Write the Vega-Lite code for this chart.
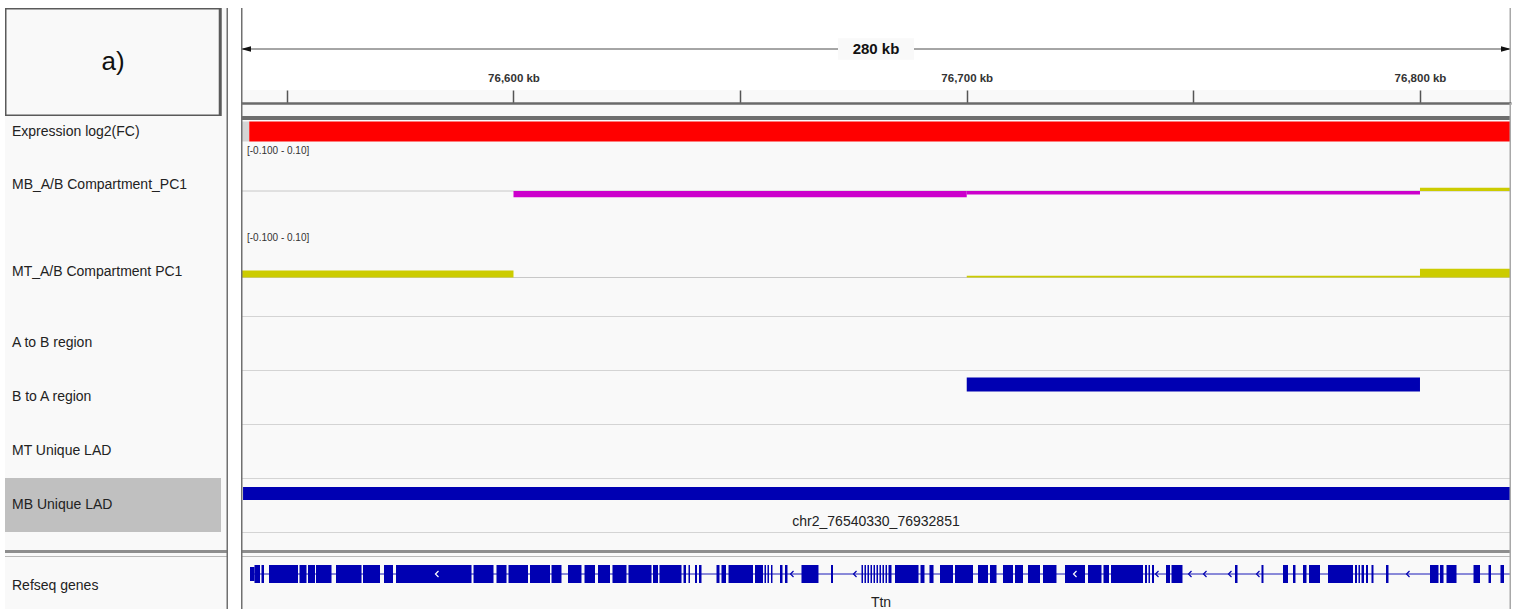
{
"$schema": "https://vega.github.io/schema/vega-lite/v6.json",
"background": "white",
"padding": {"left": 5, "top": 8, "right": 9, "bottom": 0},
"config": {"view": {"stroke": null, "fill": "#f9f9f9"}, "font": "Liberation Sans"},
"datasets": {
 "locus": [{"chrom": "chr2", "start": 76539880, "end": 76820080}],
 "tracks": [
  {"id": "expr", "track": "Expression log2(FC)"},
  {"id": "mb_pc1", "track": "MB_A/B Compartment_PC1"},
  {"id": "mt_pc1", "track": "MT_A/B Compartment PC1"},
  {"id": "a2b", "track": "A to B region"},
  {"id": "b2a", "track": "B to A region"},
  {"id": "mt_lad", "track": "MT Unique LAD"},
  {"id": "mb_lad", "track": "MB Unique LAD"},
  {"id": "refseq", "track": "Refseq genes"}
 ],
 "expression": [
  {"start": 76538000, "end": 76541700, "log2fc": 0},
  {"start": 76541700, "end": 76982500, "log2fc": 0.42}
 ],
 "mb_pc1": [
  {"start": 76500000, "end": 76600000, "pc1": 0},
  {"start": 76600000, "end": 76700000, "pc1": -0.013},
  {"start": 76700000, "end": 76800000, "pc1": -0.0073},
  {"start": 76800000, "end": 76900000, "pc1": 0.007}
 ],
 "mt_pc1": [
  {"start": 76500000, "end": 76600000, "pc1": 0.0145},
  {"start": 76600000, "end": 76700000, "pc1": 0},
  {"start": 76700000, "end": 76800000, "pc1": 0.0037},
  {"start": 76800000, "end": 76900000, "pc1": 0.0185}
 ],
 "b_to_a": [{"chrom": "chr2", "start": 76700000, "end": 76800000}],
 "mb_lad": [{"name": "chr2_76540330_76932851", "start": 76540330, "end": 76932851}],
 "ttn": [{"name": "Ttn", "strand": "-", "start": 76541870, "end": 76982500}],
 "ttn_strand": [
  {"pos": 76583120, "in_exon": true},
  {"pos": 76661450, "in_exon": false},
  {"pos": 76675350, "in_exon": false},
  {"pos": 76723890, "in_exon": true},
  {"pos": 76741980, "in_exon": false},
  {"pos": 76749260, "in_exon": false},
  {"pos": 76752570, "in_exon": false},
  {"pos": 76758080, "in_exon": false},
  {"pos": 76764260, "in_exon": false},
  {"pos": 76797360, "in_exon": false}
 ],
 "ttn_exons": [
  {"start":76541870,"end":76542860,"part":"UTR"},
  {"start":76542860,"end":76544070,"part":"CDS"},
  {"start":76544400,"end":76544950,"part":"CDS"},
  {"start":76546060,"end":76552460,"part":"CDS"},
  {"start":76552790,"end":76554330,"part":"CDS"},
  {"start":76554660,"end":76556210,"part":"CDS"},
  {"start":76556430,"end":76559850,"part":"CDS"},
  {"start":76560840,"end":76566470,"part":"CDS"},
  {"start":76566800,"end":76570550,"part":"CDS"},
  {"start":76571430,"end":76573420,"part":"CDS"},
  {"start":76574080,"end":76590740,"part":"CDS"},
  {"start":76591180,"end":76595590,"part":"CDS"},
  {"start":76596250,"end":76598460,"part":"CDS"},
  {"start":76598900,"end":76603200,"part":"CDS"},
  {"start":76603640,"end":76608050,"part":"CDS"},
  {"start":76608390,"end":76610590,"part":"CDS"},
  {"start":76612030,"end":76615000,"part":"CDS"},
  {"start":76615670,"end":76617980,"part":"CDS"},
  {"start":76618640,"end":76621290,"part":"CDS"},
  {"start":76621840,"end":76624930,"part":"CDS"},
  {"start":76625370,"end":76630450,"part":"CDS"},
  {"start":76630780,"end":76631880,"part":"CDS"},
  {"start":76632210,"end":76637070,"part":"CDS"},
  {"start":76637510,"end":76638060,"part":"CDS"},
  {"start":76638610,"end":76638940,"part":"CDS"},
  {"start":76640050,"end":76640490,"part":"CDS"},
  {"start":76640930,"end":76641480,"part":"CDS"},
  {"start":76644790,"end":76645450,"part":"CDS"},
  {"start":76645890,"end":76646890,"part":"CDS"},
  {"start":76647440,"end":76652840,"part":"CDS"},
  {"start":76653280,"end":76655050,"part":"CDS"},
  {"start":76655380,"end":76655710,"part":"CDS"},
  {"start":76656040,"end":76656370,"part":"CDS"},
  {"start":76656810,"end":76657140,"part":"CDS"},
  {"start":76658800,"end":76659350,"part":"CDS"},
  {"start":76659900,"end":76660450,"part":"CDS"},
  {"start":76663540,"end":76667290,"part":"CDS"},
  {"start":76670050,"end":76670490,"part":"CDS"},
  {"start":76676780,"end":76677110,"part":"CDS"},
  {"start":76677440,"end":76677770,"part":"CDS"},
  {"start":76678100,"end":76678440,"part":"CDS"},
  {"start":76678770,"end":76679100,"part":"CDS"},
  {"start":76679430,"end":76679760,"part":"CDS"},
  {"start":76680090,"end":76680420,"part":"CDS"},
  {"start":76680750,"end":76681080,"part":"CDS"},
  {"start":76681410,"end":76681750,"part":"CDS"},
  {"start":76682080,"end":76682410,"part":"CDS"},
  {"start":76682740,"end":76683400,"part":"CDS"},
  {"start":76684170,"end":76689360,"part":"CDS"},
  {"start":76689800,"end":76690680,"part":"CDS"},
  {"start":76691780,"end":76692670,"part":"CDS"},
  {"start":76694100,"end":76696970,"part":"CDS"},
  {"start":76697410,"end":76701380,"part":"CDS"},
  {"start":76702480,"end":76704690,"part":"CDS"},
  {"start":76705130,"end":76706570,"part":"CDS"},
  {"start":76708000,"end":76710210,"part":"CDS"},
  {"start":76710650,"end":76712410,"part":"CDS"},
  {"start":76713520,"end":76716160,"part":"CDS"},
  {"start":76716830,"end":76719800,"part":"CDS"},
  {"start":76721680,"end":76726090,"part":"CDS"},
  {"start":76726750,"end":76729730,"part":"CDS"},
  {"start":76730170,"end":76731390,"part":"CDS"},
  {"start":76731830,"end":76738890,"part":"CDS"},
  {"start":76739330,"end":76739770,"part":"CDS"},
  {"start":76740100,"end":76740430,"part":"CDS"},
  {"start":76740870,"end":76741320,"part":"CDS"},
  {"start":76743960,"end":76744850,"part":"CDS"},
  {"start":76745180,"end":76747600,"part":"CDS"},
  {"start":76759190,"end":76759740,"part":"CDS"},
  {"start":76765030,"end":76765470,"part":"CDS"},
  {"start":76769780,"end":76770880,"part":"CDS"},
  {"start":76771980,"end":76772530,"part":"CDS"},
  {"start":76774190,"end":76774960,"part":"CDS"},
  {"start":76775510,"end":76777940,"part":"CDS"},
  {"start":76779700,"end":76785220,"part":"CDS"},
  {"start":76785660,"end":76786100,"part":"CDS"},
  {"start":76786430,"end":76786760,"part":"CDS"},
  {"start":76787100,"end":76787650,"part":"CDS"},
  {"start":76788090,"end":76788530,"part":"CDS"},
  {"start":76789300,"end":76789740,"part":"CDS"},
  {"start":76792500,"end":76793050,"part":"CDS"},
  {"start":76802210,"end":76804080,"part":"CDS"},
  {"start":76804420,"end":76805190,"part":"CDS"},
  {"start":76805850,"end":76808060,"part":"CDS"},
  {"start":76811810,"end":76813240,"part":"CDS"},
  {"start":76815120,"end":76815670,"part":"CDS"},
  {"start":76817760,"end":76818540,"part":"CDS"}
 ]
},
"spacing": 0,
"vconcat": [
 {"hconcat": [
  {"width": 223, "height": 108, "data": {"values": [{"panel": "a)"}]}, "layer": [
   {"mark": {"type": "rect", "fill": "#f9f9f9", "stroke": "#5a5a5a", "strokeWidth": 3, "clip": true}, "encoding": {"x": {"datum": 0, "type": "quantitative", "scale": {"domain": [0, 1], "nice": false, "zero": false}, "axis": null}, "x2": {"datum": 0.9652}}},
   {"mark": {"type": "text", "fontSize": 26, "color": "#111111", "align": "center", "baseline": "alphabetic", "dy": 8}, "encoding": {"x": {"datum": 0.4843, "type": "quantitative", "scale": {"domain": [0, 1], "nice": false, "zero": false}, "axis": null}, "text": {"field": "panel"}}},
   {"mark": {"type": "rule", "color": "#707070", "strokeWidth": 3, "clip": true}, "encoding": {"x": {"datum": 1, "type": "quantitative", "scale": {"domain": [0, 1], "nice": false, "zero": false}, "axis": null}}}
  ]},
  {"vconcat": [
   {"width": 1270, "height": 82, "data": {"name": "locus"}, "layer": [
    {"mark": {"type": "rule", "color": "#4d4d4d", "strokeWidth": 1, "clip": true}, "encoding": {"x": {"field": "start", "type": "quantitative", "scale": {"domain": [76539880, 76820080], "nice": false, "zero": false, "clamp": true}, "axis": null}, "x2": {"field": "end"}}},
    {"mark": {"type": "point", "shape": "M-1,-0.28H1V0.28H-1Z", "size": 5776, "filled": true, "color": "#f9f9f9", "opacity": 1}, "encoding": {}},
    {"mark": {"type": "text", "text": "280 kb", "fontSize": 15, "fontWeight": "bold", "color": "#111111", "align": "center", "baseline": "middle"}, "encoding": {}},
    {"mark": {"type": "point", "shape": "M0,0L2,-0.55L2,0.55Z", "size": 100, "filled": true, "color": "#111111", "opacity": 1}, "encoding": {"x": {"field": "start", "type": "quantitative", "scale": {"domain": [76539880, 76820080], "nice": false, "zero": false, "clamp": true}, "axis": null}}},
    {"mark": {"type": "point", "shape": "M0,0L-2,-0.55L-2,0.55Z", "size": 100, "filled": true, "color": "#111111", "opacity": 1}, "encoding": {"x": {"field": "end", "type": "quantitative", "scale": {"domain": [76539880, 76820080], "nice": false, "zero": false, "clamp": true}, "axis": null}}},
    {"mark": {"type": "rule", "color": "#707070", "strokeWidth": 3, "clip": true}, "encoding": {"x": {"field": "start", "type": "quantitative", "scale": {"domain": [76539880, 76820080], "nice": false, "zero": false, "clamp": true}, "axis": null}}},
    {"mark": {"type": "rule", "color": "#a8a8a8", "strokeWidth": 3, "clip": true}, "encoding": {"x": {"field": "end", "type": "quantitative", "scale": {"domain": [76539880, 76820080], "nice": false, "zero": false, "clamp": true}, "axis": null}}}
   ]},
   {"width": 1270, "height": 13, "data": {"name": "locus"}, "layer": [
    {"mark": {"type": "rule", "color": "#707070", "strokeWidth": 3, "clip": true}, "encoding": {"x": {"field": "start", "type": "quantitative", "scale": {"domain": [76539880, 76820080], "nice": false, "zero": false, "clamp": true}, "axis": null}}},
    {"mark": {"type": "rule", "color": "#a8a8a8", "strokeWidth": 3, "clip": true}, "encoding": {"x": {"field": "end", "type": "quantitative", "scale": {"domain": [76539880, 76820080], "nice": false, "zero": false, "clamp": true}, "axis": null}}}
   ]},
   {"width": 1270, "height": 13, "data": {"name": "locus"}, "layer": [
    {"mark": {"type": "rule", "color": "#707070", "strokeWidth": 3, "clip": true}, "encoding": {"x": {"field": "start", "type": "quantitative", "scale": {"domain": [76539880, 76820080], "nice": false, "zero": false, "clamp": true}, "axis": {"orient": "top", "values": [76550000, 76600000, 76650000, 76700000, 76750000, 76800000], "domain": true, "domainColor": "#6a6a6a", "domainWidth": 2.5, "ticks": true, "tickSize": 13, "tickColor": "#555555", "tickWidth": 1.5, "labelExpr": "datum.value % 100000 === 0 ? format(datum.value / 1000, ',') + ' kb' : ''", "labelFont": "Liberation Sans", "labelFontWeight": "bold", "labelFontSize": 11.5, "labelColor": "#333333", "labelPadding": 12, "labelBaseline": "middle", "labelFlush": false, "labelOverlap": false, "grid": false, "title": null}}}},
    {"mark": {"type": "rule", "color": "#a8a8a8", "strokeWidth": 3, "clip": true}, "encoding": {"x": {"field": "end", "type": "quantitative", "scale": {"domain": [76539880, 76820080], "nice": false, "zero": false, "clamp": true}, "axis": {"orient": "top", "values": [76550000, 76600000, 76650000, 76700000, 76750000, 76800000], "domain": true, "domainColor": "#6a6a6a", "domainWidth": 2.5, "ticks": true, "tickSize": 13, "tickColor": "#555555", "tickWidth": 1.5, "labelExpr": "datum.value % 100000 === 0 ? format(datum.value / 1000, ',') + ' kb' : ''", "labelFont": "Liberation Sans", "labelFontWeight": "bold", "labelFontSize": 11.5, "labelColor": "#333333", "labelPadding": 12, "labelBaseline": "middle", "labelFlush": false, "labelOverlap": false, "grid": false, "title": null}}}}
   ]}
  ], "spacing": 0, "bounds": "flush"}
 ], "spacing": 13, "bounds": "flush"},

 {"hconcat": [
  {"width": 223, "height": 4, "data": {"name": "locus"}, "layer": [
   {"mark": {"type": "rule", "color": "#707070", "strokeWidth": 3, "clip": true}, "encoding": {"x": {"datum": 1, "type": "quantitative", "scale": {"domain": [0, 1], "nice": false, "zero": false}, "axis": null}}}
  ]},
  {"width": 1270, "height": 4, "data": {"name": "locus"}, "layer": [
   {"mark": {"type": "rect", "color": "#6e6e6e"}, "encoding": {"x": {"field": "start", "type": "quantitative", "scale": {"domain": [76539880, 76820080], "nice": false, "zero": false, "clamp": true}, "axis": null}, "x2": {"field": "end"}}},
   {"mark": {"type": "rule", "color": "#707070", "strokeWidth": 3, "clip": true}, "encoding": {"x": {"field": "start", "type": "quantitative", "scale": {"domain": [76539880, 76820080], "nice": false, "zero": false, "clamp": true}, "axis": null}}},
   {"mark": {"type": "rule", "color": "#a8a8a8", "strokeWidth": 3, "clip": true}, "encoding": {"x": {"field": "end", "type": "quantitative", "scale": {"domain": [76539880, 76820080], "nice": false, "zero": false, "clamp": true}, "axis": null}}}
  ]}
 ], "spacing": 13, "bounds": "flush"},

 {"hconcat": [
  {"width": 223, "height": 23, "data": {"name": "tracks"}, "transform": [{"filter": "datum.id === 'expr'"}], "layer": [
   {"mark": {"type": "text", "align": "left", "baseline": "middle", "dx": 7, "fontSize": 14, "color": "#222222"}, "encoding": {"x": {"datum": 0, "type": "quantitative", "scale": {"domain": [0, 1], "nice": false, "zero": false}, "axis": null}, "text": {"field": "track"}}},
   {"mark": {"type": "rule", "color": "#707070", "strokeWidth": 3, "clip": true}, "encoding": {"x": {"datum": 1, "type": "quantitative", "scale": {"domain": [0, 1], "nice": false, "zero": false}, "axis": null}}}
  ]},
  {"width": 1270, "height": 23, "layer": [
   {"data": {"name": "expression"}, "mark": {"type": "rule", "strokeWidth": 20, "clip": true}, "encoding": {"x": {"field": "start", "type": "quantitative", "scale": {"domain": [76539880, 76820080], "nice": false, "zero": false, "clamp": true}, "axis": null}, "x2": {"field": "end"}, "color": {"field": "log2fc", "type": "quantitative", "scale": {"domain": [-0.1, 0, 0.1], "range": ["#0000ff", "#d4d4d4", "#ff0000"], "clamp": true}, "legend": null}}},
   {"data": {"name": "locus"}, "mark": {"type": "rule", "color": "#707070", "strokeWidth": 3, "clip": true}, "encoding": {"x": {"field": "start", "type": "quantitative", "scale": {"domain": [76539880, 76820080], "nice": false, "zero": false, "clamp": true}, "axis": null}}},
   {"data": {"name": "locus"}, "mark": {"type": "rule", "color": "#a8a8a8", "strokeWidth": 3, "clip": true}, "encoding": {"x": {"field": "end", "type": "quantitative", "scale": {"domain": [76539880, 76820080], "nice": false, "zero": false, "clamp": true}, "axis": null}}}
  ]}
 ], "spacing": 13, "bounds": "flush"},

 {"hconcat": [
  {"width": 223, "height": 87, "data": {"name": "tracks"}, "transform": [{"filter": "datum.id === 'mb_pc1'"}], "layer": [
   {"mark": {"type": "text", "align": "left", "baseline": "middle", "dx": 7, "dy": -2, "fontSize": 14, "color": "#222222"}, "encoding": {"x": {"datum": 0, "type": "quantitative", "scale": {"domain": [0, 1], "nice": false, "zero": false}, "axis": null}, "text": {"field": "track"}}},
   {"mark": {"type": "rule", "color": "#707070", "strokeWidth": 3, "clip": true}, "encoding": {"x": {"datum": 1, "type": "quantitative", "scale": {"domain": [0, 1], "nice": false, "zero": false}, "axis": null}}}
  ]},
  {"width": 1270, "height": 87, "layer": [
   {"data": {"name": "locus"}, "mark": {"type": "rule", "color": "#c8c8c8", "strokeWidth": 1, "clip": true}, "encoding": {"x": {"field": "start", "type": "quantitative", "scale": {"domain": [76539880, 76820080], "nice": false, "zero": false, "clamp": true}, "axis": null}, "x2": {"field": "end"}, "y": {"datum": 0, "type": "quantitative", "scale": {"domain": [-0.1, 0.1], "range": [96, 0], "nice": false, "zero": false, "clamp": true}, "axis": null}}},
   {"data": {"name": "mb_pc1"}, "mark": {"type": "rect"}, "encoding": {"x": {"field": "start", "type": "quantitative", "scale": {"domain": [76539880, 76820080], "nice": false, "zero": false, "clamp": true}, "axis": null}, "x2": {"field": "end"}, "y": {"field": "pc1", "type": "quantitative", "scale": {"domain": [-0.1, 0.1], "range": [96, 0], "nice": false, "zero": false, "clamp": true}, "axis": null}, "y2": {"datum": 0}, "color": {"condition": {"test": "datum.pc1 < 0", "value": "#cc00cc"}, "value": "#cccc00"}}},
   {"data": {"name": "locus"}, "mark": {"type": "text", "text": "[-0.100 - 0.10]", "align": "left", "baseline": "top", "dx": 6, "dy": 3, "fontSize": 10, "color": "#333333"}, "encoding": {"x": {"field": "start", "type": "quantitative", "scale": {"domain": [76539880, 76820080], "nice": false, "zero": false, "clamp": true}, "axis": null}, "y": {"datum": 0.1, "type": "quantitative", "scale": {"domain": [-0.1, 0.1], "range": [96, 0], "nice": false, "zero": false, "clamp": true}, "axis": null}}},
   {"data": {"name": "locus"}, "mark": {"type": "rule", "color": "#707070", "strokeWidth": 3, "clip": true}, "encoding": {"x": {"field": "start", "type": "quantitative", "scale": {"domain": [76539880, 76820080], "nice": false, "zero": false, "clamp": true}, "axis": null}}},
   {"data": {"name": "locus"}, "mark": {"type": "rule", "color": "#a8a8a8", "strokeWidth": 3, "clip": true}, "encoding": {"x": {"field": "end", "type": "quantitative", "scale": {"domain": [76539880, 76820080], "nice": false, "zero": false, "clamp": true}, "axis": null}}}
  ]}
 ], "spacing": 13, "bounds": "flush"},

 {"hconcat": [
  {"width": 223, "height": 86, "data": {"name": "tracks"}, "transform": [{"filter": "datum.id === 'mt_pc1'"}], "layer": [
   {"mark": {"type": "text", "align": "left", "baseline": "middle", "dx": 7, "dy": -1, "fontSize": 14, "color": "#222222"}, "encoding": {"x": {"datum": 0, "type": "quantitative", "scale": {"domain": [0, 1], "nice": false, "zero": false}, "axis": null}, "text": {"field": "track"}}},
   {"mark": {"type": "rule", "color": "#707070", "strokeWidth": 3, "clip": true}, "encoding": {"x": {"datum": 1, "type": "quantitative", "scale": {"domain": [0, 1], "nice": false, "zero": false}, "axis": null}}}
  ]},
  {"width": 1270, "height": 86, "layer": [
   {"data": {"name": "locus"}, "mark": {"type": "rule", "color": "#c8c8c8", "strokeWidth": 1, "clip": true}, "encoding": {"x": {"field": "start", "type": "quantitative", "scale": {"domain": [76539880, 76820080], "nice": false, "zero": false, "clamp": true}, "axis": null}, "x2": {"field": "end"}, "y": {"datum": 0, "type": "quantitative", "scale": {"domain": [-0.1, 0.1], "range": [95, 0], "nice": false, "zero": false, "clamp": true}, "axis": null}}},
   {"data": {"name": "mt_pc1"}, "mark": {"type": "rect"}, "encoding": {"x": {"field": "start", "type": "quantitative", "scale": {"domain": [76539880, 76820080], "nice": false, "zero": false, "clamp": true}, "axis": null}, "x2": {"field": "end"}, "y": {"field": "pc1", "type": "quantitative", "scale": {"domain": [-0.1, 0.1], "range": [95, 0], "nice": false, "zero": false, "clamp": true}, "axis": null}, "y2": {"datum": 0}, "color": {"condition": {"test": "datum.pc1 < 0", "value": "#cc00cc"}, "value": "#cccc00"}}},
   {"data": {"name": "locus"}, "mark": {"type": "text", "text": "[-0.100 - 0.10]", "align": "left", "baseline": "top", "dx": 6, "dy": 3, "fontSize": 10, "color": "#333333"}, "encoding": {"x": {"field": "start", "type": "quantitative", "scale": {"domain": [76539880, 76820080], "nice": false, "zero": false, "clamp": true}, "axis": null}, "y": {"datum": 0.1, "type": "quantitative", "scale": {"domain": [-0.1, 0.1], "range": [95, 0], "nice": false, "zero": false, "clamp": true}, "axis": null}}},
   {"data": {"name": "locus"}, "mark": {"type": "rule", "color": "#707070", "strokeWidth": 3, "clip": true}, "encoding": {"x": {"field": "start", "type": "quantitative", "scale": {"domain": [76539880, 76820080], "nice": false, "zero": false, "clamp": true}, "axis": null}}},
   {"data": {"name": "locus"}, "mark": {"type": "rule", "color": "#a8a8a8", "strokeWidth": 3, "clip": true}, "encoding": {"x": {"field": "end", "type": "quantitative", "scale": {"domain": [76539880, 76820080], "nice": false, "zero": false, "clamp": true}, "axis": null}}}
  ]}
 ], "spacing": 13, "bounds": "flush"},

 {"hconcat": [
  {"width": 223, "height": 54, "data": {"name": "tracks"}, "transform": [{"filter": "datum.id === 'a2b'"}], "layer": [
   {"mark": {"type": "text", "align": "left", "baseline": "middle", "dx": 7, "fontSize": 14, "color": "#222222"}, "encoding": {"x": {"datum": 0, "type": "quantitative", "scale": {"domain": [0, 1], "nice": false, "zero": false}, "axis": null}, "text": {"field": "track"}}},
   {"mark": {"type": "rule", "color": "#707070", "strokeWidth": 3, "clip": true}, "encoding": {"x": {"datum": 1, "type": "quantitative", "scale": {"domain": [0, 1], "nice": false, "zero": false}, "axis": null}}}
  ]},
  {"vconcat": [
   {"width": 1270, "height": 1, "data": {"name": "locus"}, "layer": [
    {"mark": {"type": "rect", "color": "#d4d4d4"}, "encoding": {"x": {"field": "start", "type": "quantitative", "scale": {"domain": [76539880, 76820080], "nice": false, "zero": false, "clamp": true}, "axis": null}, "x2": {"field": "end"}}},
    {"mark": {"type": "rule", "color": "#707070", "strokeWidth": 3, "clip": true}, "encoding": {"x": {"field": "start", "type": "quantitative", "scale": {"domain": [76539880, 76820080], "nice": false, "zero": false, "clamp": true}, "axis": null}}},
    {"mark": {"type": "rule", "color": "#a8a8a8", "strokeWidth": 3, "clip": true}, "encoding": {"x": {"field": "end", "type": "quantitative", "scale": {"domain": [76539880, 76820080], "nice": false, "zero": false, "clamp": true}, "axis": null}}}
   ]},
   {"width": 1270, "height": 53, "data": {"name": "locus"}, "layer": [
    {"mark": {"type": "rule", "color": "#707070", "strokeWidth": 3, "clip": true}, "encoding": {"x": {"field": "start", "type": "quantitative", "scale": {"domain": [76539880, 76820080], "nice": false, "zero": false, "clamp": true}, "axis": null}}},
    {"mark": {"type": "rule", "color": "#a8a8a8", "strokeWidth": 3, "clip": true}, "encoding": {"x": {"field": "end", "type": "quantitative", "scale": {"domain": [76539880, 76820080], "nice": false, "zero": false, "clamp": true}, "axis": null}}}
   ]}
  ], "spacing": 0, "bounds": "flush"}
 ], "spacing": 13, "bounds": "flush"},

 {"hconcat": [
  {"width": 223, "height": 54, "data": {"name": "tracks"}, "transform": [{"filter": "datum.id === 'b2a'"}], "layer": [
   {"mark": {"type": "text", "align": "left", "baseline": "middle", "dx": 7, "fontSize": 14, "color": "#222222"}, "encoding": {"x": {"datum": 0, "type": "quantitative", "scale": {"domain": [0, 1], "nice": false, "zero": false}, "axis": null}, "text": {"field": "track"}}},
   {"mark": {"type": "rule", "color": "#707070", "strokeWidth": 3, "clip": true}, "encoding": {"x": {"datum": 1, "type": "quantitative", "scale": {"domain": [0, 1], "nice": false, "zero": false}, "axis": null}}}
  ]},
  {"vconcat": [
   {"width": 1270, "height": 1, "data": {"name": "locus"}, "layer": [
    {"mark": {"type": "rect", "color": "#d4d4d4"}, "encoding": {"x": {"field": "start", "type": "quantitative", "scale": {"domain": [76539880, 76820080], "nice": false, "zero": false, "clamp": true}, "axis": null}, "x2": {"field": "end"}}},
    {"mark": {"type": "rule", "color": "#707070", "strokeWidth": 3, "clip": true}, "encoding": {"x": {"field": "start", "type": "quantitative", "scale": {"domain": [76539880, 76820080], "nice": false, "zero": false, "clamp": true}, "axis": null}}},
    {"mark": {"type": "rule", "color": "#a8a8a8", "strokeWidth": 3, "clip": true}, "encoding": {"x": {"field": "end", "type": "quantitative", "scale": {"domain": [76539880, 76820080], "nice": false, "zero": false, "clamp": true}, "axis": null}}}
   ]},
   {"width": 1270, "height": 27, "layer": [
    {"data": {"name": "b_to_a"}, "mark": {"type": "rule", "color": "#0000b2", "strokeWidth": 14, "clip": true}, "encoding": {"x": {"field": "start", "type": "quantitative", "scale": {"domain": [76539880, 76820080], "nice": false, "zero": false, "clamp": true}, "axis": null}, "x2": {"field": "end"}}},
    {"data": {"name": "locus"}, "mark": {"type": "rule", "color": "#707070", "strokeWidth": 3, "clip": true}, "encoding": {"x": {"field": "start", "type": "quantitative", "scale": {"domain": [76539880, 76820080], "nice": false, "zero": false, "clamp": true}, "axis": null}}},
    {"data": {"name": "locus"}, "mark": {"type": "rule", "color": "#a8a8a8", "strokeWidth": 3, "clip": true}, "encoding": {"x": {"field": "end", "type": "quantitative", "scale": {"domain": [76539880, 76820080], "nice": false, "zero": false, "clamp": true}, "axis": null}}}
   ]},
   {"width": 1270, "height": 26, "data": {"name": "locus"}, "layer": [
    {"mark": {"type": "rule", "color": "#707070", "strokeWidth": 3, "clip": true}, "encoding": {"x": {"field": "start", "type": "quantitative", "scale": {"domain": [76539880, 76820080], "nice": false, "zero": false, "clamp": true}, "axis": null}}},
    {"mark": {"type": "rule", "color": "#a8a8a8", "strokeWidth": 3, "clip": true}, "encoding": {"x": {"field": "end", "type": "quantitative", "scale": {"domain": [76539880, 76820080], "nice": false, "zero": false, "clamp": true}, "axis": null}}}
   ]}
  ], "spacing": 0, "bounds": "flush"}
 ], "spacing": 13, "bounds": "flush"},

 {"hconcat": [
  {"width": 223, "height": 54, "data": {"name": "tracks"}, "transform": [{"filter": "datum.id === 'mt_lad'"}], "layer": [
   {"mark": {"type": "text", "align": "left", "baseline": "middle", "dx": 7, "fontSize": 14, "color": "#222222"}, "encoding": {"x": {"datum": 0, "type": "quantitative", "scale": {"domain": [0, 1], "nice": false, "zero": false}, "axis": null}, "text": {"field": "track"}}},
   {"mark": {"type": "rule", "color": "#707070", "strokeWidth": 3, "clip": true}, "encoding": {"x": {"datum": 1, "type": "quantitative", "scale": {"domain": [0, 1], "nice": false, "zero": false}, "axis": null}}}
  ]},
  {"vconcat": [
   {"width": 1270, "height": 1, "data": {"name": "locus"}, "layer": [
    {"mark": {"type": "rect", "color": "#d4d4d4"}, "encoding": {"x": {"field": "start", "type": "quantitative", "scale": {"domain": [76539880, 76820080], "nice": false, "zero": false, "clamp": true}, "axis": null}, "x2": {"field": "end"}}},
    {"mark": {"type": "rule", "color": "#707070", "strokeWidth": 3, "clip": true}, "encoding": {"x": {"field": "start", "type": "quantitative", "scale": {"domain": [76539880, 76820080], "nice": false, "zero": false, "clamp": true}, "axis": null}}},
    {"mark": {"type": "rule", "color": "#a8a8a8", "strokeWidth": 3, "clip": true}, "encoding": {"x": {"field": "end", "type": "quantitative", "scale": {"domain": [76539880, 76820080], "nice": false, "zero": false, "clamp": true}, "axis": null}}}
   ]},
   {"width": 1270, "height": 53, "data": {"name": "locus"}, "layer": [
    {"mark": {"type": "rule", "color": "#707070", "strokeWidth": 3, "clip": true}, "encoding": {"x": {"field": "start", "type": "quantitative", "scale": {"domain": [76539880, 76820080], "nice": false, "zero": false, "clamp": true}, "axis": null}}},
    {"mark": {"type": "rule", "color": "#a8a8a8", "strokeWidth": 3, "clip": true}, "encoding": {"x": {"field": "end", "type": "quantitative", "scale": {"domain": [76539880, 76820080], "nice": false, "zero": false, "clamp": true}, "axis": null}}}
   ]}
  ], "spacing": 0, "bounds": "flush"}
 ], "spacing": 13, "bounds": "flush"},

 {"hconcat": [
  {"width": 223, "height": 54, "data": {"name": "tracks"}, "transform": [{"filter": "datum.id === 'mb_lad'"}], "layer": [
   {"mark": {"type": "rect", "color": "#c0c0c0"}, "encoding": {"x": {"datum": 0, "type": "quantitative", "scale": {"domain": [0, 1], "nice": false, "zero": false}, "axis": null}, "x2": {"datum": 0.9686}}},
   {"mark": {"type": "text", "align": "left", "baseline": "middle", "dx": 7, "fontSize": 14, "color": "#222222"}, "encoding": {"x": {"datum": 0, "type": "quantitative", "scale": {"domain": [0, 1], "nice": false, "zero": false}, "axis": null}, "text": {"field": "track"}}},
   {"mark": {"type": "rule", "color": "#707070", "strokeWidth": 3, "clip": true}, "encoding": {"x": {"datum": 1, "type": "quantitative", "scale": {"domain": [0, 1], "nice": false, "zero": false}, "axis": null}}}
  ]},
  {"vconcat": [
   {"width": 1270, "height": 1, "data": {"name": "locus"}, "layer": [
    {"mark": {"type": "rect", "color": "#d4d4d4"}, "encoding": {"x": {"field": "start", "type": "quantitative", "scale": {"domain": [76539880, 76820080], "nice": false, "zero": false, "clamp": true}, "axis": null}, "x2": {"field": "end"}}},
    {"mark": {"type": "rule", "color": "#707070", "strokeWidth": 3, "clip": true}, "encoding": {"x": {"field": "start", "type": "quantitative", "scale": {"domain": [76539880, 76820080], "nice": false, "zero": false, "clamp": true}, "axis": null}}},
    {"mark": {"type": "rule", "color": "#a8a8a8", "strokeWidth": 3, "clip": true}, "encoding": {"x": {"field": "end", "type": "quantitative", "scale": {"domain": [76539880, 76820080], "nice": false, "zero": false, "clamp": true}, "axis": null}}}
   ]},
   {"width": 1270, "height": 29, "layer": [
    {"data": {"name": "mb_lad"}, "mark": {"type": "rule", "color": "#0000b2", "strokeWidth": 13, "clip": true}, "encoding": {"x": {"field": "start", "type": "quantitative", "scale": {"domain": [76539880, 76820080], "nice": false, "zero": false, "clamp": true}, "axis": null}, "x2": {"field": "end"}}},
    {"data": {"name": "locus"}, "mark": {"type": "rule", "color": "#707070", "strokeWidth": 3, "clip": true}, "encoding": {"x": {"field": "start", "type": "quantitative", "scale": {"domain": [76539880, 76820080], "nice": false, "zero": false, "clamp": true}, "axis": null}}},
    {"data": {"name": "locus"}, "mark": {"type": "rule", "color": "#a8a8a8", "strokeWidth": 3, "clip": true}, "encoding": {"x": {"field": "end", "type": "quantitative", "scale": {"domain": [76539880, 76820080], "nice": false, "zero": false, "clamp": true}, "axis": null}}}
   ]},
   {"width": 1270, "height": 24, "layer": [
    {"data": {"name": "mb_lad"}, "mark": {"type": "text", "fontSize": 14, "color": "#222222", "align": "center", "baseline": "middle", "dy": 2}, "encoding": {"text": {"field": "name"}}},
    {"data": {"name": "locus"}, "mark": {"type": "rule", "color": "#707070", "strokeWidth": 3, "clip": true}, "encoding": {"x": {"field": "start", "type": "quantitative", "scale": {"domain": [76539880, 76820080], "nice": false, "zero": false, "clamp": true}, "axis": null}}},
    {"data": {"name": "locus"}, "mark": {"type": "rule", "color": "#a8a8a8", "strokeWidth": 3, "clip": true}, "encoding": {"x": {"field": "end", "type": "quantitative", "scale": {"domain": [76539880, 76820080], "nice": false, "zero": false, "clamp": true}, "axis": null}}}
   ]}
  ], "spacing": 0, "bounds": "flush"}
 ], "spacing": 13, "bounds": "flush"},

 {"hconcat": [
  {"vconcat": [
   {"width": 223, "height": 18, "data": {"name": "locus"}, "layer": [
    {"mark": {"type": "rule", "color": "#707070", "strokeWidth": 3, "clip": true}, "encoding": {"x": {"datum": 1, "type": "quantitative", "scale": {"domain": [0, 1], "nice": false, "zero": false}, "axis": null}}}
   ]},
   {"width": 223, "height": 3, "data": {"name": "locus"}, "layer": [
    {"mark": {"type": "rect", "color": "#8e8e8e"}, "encoding": {"x": {"datum": 0, "type": "quantitative", "scale": {"domain": [0, 1], "nice": false, "zero": false}, "axis": null}, "x2": {"datum": 1}}},
    {"mark": {"type": "rule", "color": "#707070", "strokeWidth": 3, "clip": true}, "encoding": {"x": {"datum": 1, "type": "quantitative", "scale": {"domain": [0, 1], "nice": false, "zero": false}, "axis": null}}}
   ]},
   {"width": 223, "height": 3, "data": {"name": "locus"}, "layer": [
    {"mark": {"type": "rule", "color": "#707070", "strokeWidth": 3, "clip": true}, "encoding": {"x": {"datum": 1, "type": "quantitative", "scale": {"domain": [0, 1], "nice": false, "zero": false}, "axis": null}}}
   ]},
   {"width": 223, "height": 1, "data": {"name": "locus"}, "layer": [
    {"mark": {"type": "rect", "color": "#b8b8b8"}, "encoding": {"x": {"datum": 0, "type": "quantitative", "scale": {"domain": [0, 1], "nice": false, "zero": false}, "axis": null}, "x2": {"datum": 1}}},
    {"mark": {"type": "rule", "color": "#707070", "strokeWidth": 3, "clip": true}, "encoding": {"x": {"datum": 1, "type": "quantitative", "scale": {"domain": [0, 1], "nice": false, "zero": false}, "axis": null}}}
   ]}
  ], "spacing": 0, "bounds": "flush"},
  {"vconcat": [
   {"width": 1270, "height": 1, "data": {"name": "locus"}, "layer": [
    {"mark": {"type": "rect", "color": "#d4d4d4"}, "encoding": {"x": {"field": "start", "type": "quantitative", "scale": {"domain": [76539880, 76820080], "nice": false, "zero": false, "clamp": true}, "axis": null}, "x2": {"field": "end"}}},
    {"mark": {"type": "rule", "color": "#707070", "strokeWidth": 3, "clip": true}, "encoding": {"x": {"field": "start", "type": "quantitative", "scale": {"domain": [76539880, 76820080], "nice": false, "zero": false, "clamp": true}, "axis": null}}},
    {"mark": {"type": "rule", "color": "#a8a8a8", "strokeWidth": 3, "clip": true}, "encoding": {"x": {"field": "end", "type": "quantitative", "scale": {"domain": [76539880, 76820080], "nice": false, "zero": false, "clamp": true}, "axis": null}}}
   ]},
   {"width": 1270, "height": 17, "data": {"name": "locus"}, "layer": [
    {"mark": {"type": "rule", "color": "#707070", "strokeWidth": 3, "clip": true}, "encoding": {"x": {"field": "start", "type": "quantitative", "scale": {"domain": [76539880, 76820080], "nice": false, "zero": false, "clamp": true}, "axis": null}}},
    {"mark": {"type": "rule", "color": "#a8a8a8", "strokeWidth": 3, "clip": true}, "encoding": {"x": {"field": "end", "type": "quantitative", "scale": {"domain": [76539880, 76820080], "nice": false, "zero": false, "clamp": true}, "axis": null}}}
   ]},
   {"width": 1270, "height": 3, "data": {"name": "locus"}, "layer": [
    {"mark": {"type": "rect", "color": "#8e8e8e"}, "encoding": {"x": {"field": "start", "type": "quantitative", "scale": {"domain": [76539880, 76820080], "nice": false, "zero": false, "clamp": true}, "axis": null}, "x2": {"field": "end"}}},
    {"mark": {"type": "rule", "color": "#707070", "strokeWidth": 3, "clip": true}, "encoding": {"x": {"field": "start", "type": "quantitative", "scale": {"domain": [76539880, 76820080], "nice": false, "zero": false, "clamp": true}, "axis": null}}},
    {"mark": {"type": "rule", "color": "#a8a8a8", "strokeWidth": 3, "clip": true}, "encoding": {"x": {"field": "end", "type": "quantitative", "scale": {"domain": [76539880, 76820080], "nice": false, "zero": false, "clamp": true}, "axis": null}}}
   ]},
   {"width": 1270, "height": 3, "data": {"name": "locus"}, "layer": [
    {"mark": {"type": "rule", "color": "#707070", "strokeWidth": 3, "clip": true}, "encoding": {"x": {"field": "start", "type": "quantitative", "scale": {"domain": [76539880, 76820080], "nice": false, "zero": false, "clamp": true}, "axis": null}}},
    {"mark": {"type": "rule", "color": "#a8a8a8", "strokeWidth": 3, "clip": true}, "encoding": {"x": {"field": "end", "type": "quantitative", "scale": {"domain": [76539880, 76820080], "nice": false, "zero": false, "clamp": true}, "axis": null}}}
   ]},
   {"width": 1270, "height": 1, "data": {"name": "locus"}, "layer": [
    {"mark": {"type": "rect", "color": "#b8b8b8"}, "encoding": {"x": {"field": "start", "type": "quantitative", "scale": {"domain": [76539880, 76820080], "nice": false, "zero": false, "clamp": true}, "axis": null}, "x2": {"field": "end"}}},
    {"mark": {"type": "rule", "color": "#707070", "strokeWidth": 3, "clip": true}, "encoding": {"x": {"field": "start", "type": "quantitative", "scale": {"domain": [76539880, 76820080], "nice": false, "zero": false, "clamp": true}, "axis": null}}},
    {"mark": {"type": "rule", "color": "#a8a8a8", "strokeWidth": 3, "clip": true}, "encoding": {"x": {"field": "end", "type": "quantitative", "scale": {"domain": [76539880, 76820080], "nice": false, "zero": false, "clamp": true}, "axis": null}}}
   ]}
  ], "spacing": 0, "bounds": "flush"}
 ], "spacing": 13},

 {"hconcat": [
  {"width": 223, "height": 52, "data": {"name": "tracks"}, "transform": [{"filter": "datum.id === 'refseq'"}], "layer": [
   {"mark": {"type": "text", "align": "left", "baseline": "middle", "dx": 7, "dy": 3, "fontSize": 14, "color": "#222222"}, "encoding": {"x": {"datum": 0, "type": "quantitative", "scale": {"domain": [0, 1], "nice": false, "zero": false}, "axis": null}, "text": {"field": "track"}}},
   {"mark": {"type": "rule", "color": "#707070", "strokeWidth": 3, "clip": true}, "encoding": {"x": {"datum": 1, "type": "quantitative", "scale": {"domain": [0, 1], "nice": false, "zero": false}, "axis": null}}}
  ]},
  {"vconcat": [
   {"width": 1270, "height": 34, "layer": [
    {"data": {"name": "ttn"}, "mark": {"type": "rule", "color": "#1a1ab8", "strokeWidth": 1, "clip": true}, "encoding": {"x": {"field": "start", "type": "quantitative", "scale": {"domain": [76539880, 76820080], "nice": false, "zero": false, "clamp": true}, "axis": null}, "x2": {"field": "end"}}},
    {"data": {"name": "ttn_exons"}, "mark": {"type": "rule", "color": "#0000b2", "clip": true}, "encoding": {"x": {"field": "start", "type": "quantitative", "scale": {"domain": [76539880, 76820080], "nice": false, "zero": false, "clamp": true}, "axis": null}, "x2": {"field": "end"}, "strokeWidth": {"condition": {"test": "datum.part === 'UTR'", "value": 14}, "value": 18}}},
    {"data": {"name": "ttn_strand"}, "mark": {"type": "point", "shape": "M0.5,-1L-0.5,0L0.5,1", "size": 36, "filled": false, "strokeWidth": 1.2, "opacity": 1}, "encoding": {"x": {"field": "pos", "type": "quantitative", "scale": {"domain": [76539880, 76820080], "nice": false, "zero": false, "clamp": true}, "axis": null}, "color": {"condition": {"test": "datum.in_exon", "value": "#ffffff"}, "value": "#0000b2"}}},
    {"data": {"name": "locus"}, "mark": {"type": "rule", "color": "#707070", "strokeWidth": 3, "clip": true}, "encoding": {"x": {"field": "start", "type": "quantitative", "scale": {"domain": [76539880, 76820080], "nice": false, "zero": false, "clamp": true}, "axis": null}}},
    {"data": {"name": "locus"}, "mark": {"type": "rule", "color": "#a8a8a8", "strokeWidth": 3, "clip": true}, "encoding": {"x": {"field": "end", "type": "quantitative", "scale": {"domain": [76539880, 76820080], "nice": false, "zero": false, "clamp": true}, "axis": null}}}
   ]},
   {"width": 1270, "height": 18, "layer": [
    {"data": {"name": "ttn"}, "mark": {"type": "text", "fontSize": 14, "color": "#222222", "align": "center", "baseline": "middle", "dx": 5, "dy": 3}, "encoding": {"text": {"field": "name"}}},
    {"data": {"name": "locus"}, "mark": {"type": "rule", "color": "#707070", "strokeWidth": 3, "clip": true}, "encoding": {"x": {"field": "start", "type": "quantitative", "scale": {"domain": [76539880, 76820080], "nice": false, "zero": false, "clamp": true}, "axis": null}}},
    {"data": {"name": "locus"}, "mark": {"type": "rule", "color": "#a8a8a8", "strokeWidth": 3, "clip": true}, "encoding": {"x": {"field": "end", "type": "quantitative", "scale": {"domain": [76539880, 76820080], "nice": false, "zero": false, "clamp": true}, "axis": null}}}
   ]}
  ], "spacing": 0, "bounds": "flush"}
 ], "spacing": 13, "bounds": "flush"}
]
}
